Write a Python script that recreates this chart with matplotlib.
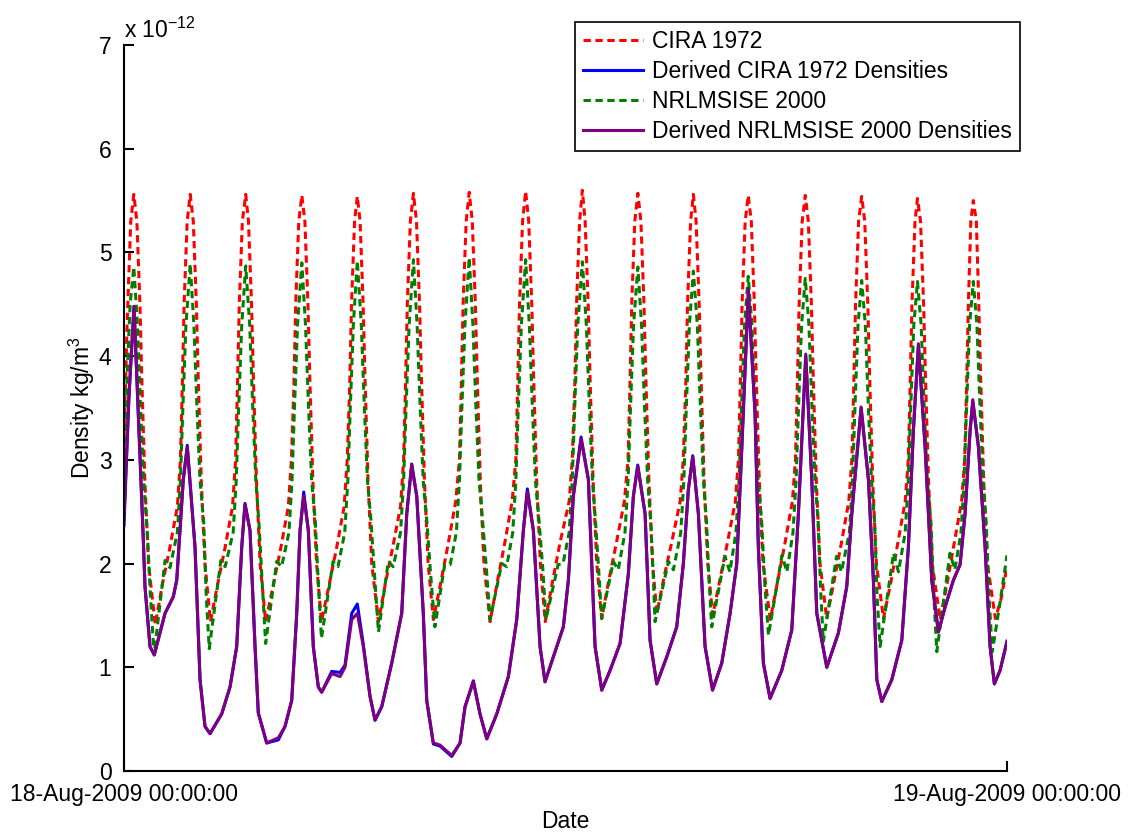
import numpy as np
import matplotlib
matplotlib.use('Agg')
from matplotlib import pyplot as plt
import matplotlib.dates as mdates

# minutes after 18-Aug-2009 00:00:00, density in units of 1e-12 kg/m^3
cira_1972 = [
    (0, 3.2), (5, 4.3), (11, 5.3), (16, 5.56), (21, 5.3), (26, 4.5), (29, 3.8), (34, 2.8), (40, 2.0), (51, 1.41),
    (62, 1.78), (75, 2.16), (87, 2.55), (92, 3.0), (95, 3.7), (98, 4.5), (103, 5.3), (108, 5.56), (113, 5.3), (118, 4.5), (121, 3.8), (126, 2.8), (132, 2.0), (141, 1.44),
    (152, 1.78), (165, 2.16), (177, 2.55), (182, 3.0), (185, 3.7), (188, 4.5), (193, 5.3), (198.5, 5.56), (203, 5.3), (208, 4.5), (211, 3.8), (216, 2.8), (222, 2.0), (231, 1.44),
    (243, 1.78), (256, 2.16), (268, 2.55), (273, 3.0), (277, 3.7), (280, 4.5), (285, 5.3), (290, 5.55), (295, 5.3), (300, 4.5), (303, 3.8), (308, 2.8), (314, 2.0), (322, 1.44),
    (334, 1.78), (347, 2.16), (359, 2.55), (364, 3.0), (368, 3.7), (371, 4.5), (376, 5.3), (380.5, 5.54), (385, 5.3), (390, 4.5), (393, 3.8), (398, 2.8), (404, 2.0), (415, 1.44),
    (426, 1.80), (439, 2.18), (451, 2.55), (456, 3.0), (459, 3.7), (462, 4.5), (467, 5.3), (472, 5.57), (477, 5.3), (482, 4.5), (485, 3.8), (490, 2.8), (496, 2.0), (504.5, 1.46),
    (516, 1.80), (529, 2.2), (541, 2.6), (547, 3.0), (550, 3.7), (553, 4.5), (558, 5.3), (563, 5.58), (568, 5.3), (573, 4.5), (576, 3.8), (581, 2.8), (587, 2.0), (597, 1.44),
    (608, 1.80), (621, 2.2), (633, 2.6), (639, 3.0), (642, 3.7), (645, 4.5), (650, 5.3), (655, 5.59), (660, 5.3), (665, 4.5), (668, 3.8), (673, 2.8), (679, 2.0), (687, 1.44),
    (698, 1.80), (711, 2.2), (726, 2.6), (731, 3.0), (735, 3.7), (738, 4.5), (743, 5.3), (747.5, 5.60), (752, 5.3), (757, 4.5), (760, 3.8), (765, 2.8), (771, 2.0), (779, 1.47),
    (790, 1.82), (803, 2.2), (816, 2.6), (822, 3.0), (825, 3.7), (828, 4.5), (833, 5.3), (838, 5.57), (843, 5.3), (848, 4.5), (851, 3.8), (856, 2.8), (862, 2.0), (869, 1.52),
    (880, 1.85), (893, 2.2), (907, 2.6), (912, 3.0), (916, 3.7), (919, 4.5), (924, 5.3), (928.5, 5.56), (933, 5.3), (938, 4.5), (941, 3.8), (946, 2.8), (952, 2.0), (960, 1.50),
    (971, 1.82), (984, 2.2), (997, 2.6), (1002, 3.0), (1005, 3.7), (1008, 4.5), (1013, 5.3), (1018, 5.55), (1023, 5.3), (1028, 4.5), (1031, 3.8), (1036, 2.8), (1042, 2.0), (1054, 1.46),
    (1065, 1.80), (1078, 2.2), (1090, 2.6), (1095, 3.0), (1098, 3.7), (1101, 4.5), (1106, 5.3), (1111, 5.55), (1116, 5.3), (1121, 4.5), (1124, 3.8), (1129, 2.8), (1135, 2.0), (1146, 1.47),
    (1157, 1.80), (1170, 2.2), (1182, 2.6), (1187, 3.0), (1190, 3.7), (1193, 4.5), (1198, 5.3), (1203, 5.54), (1208, 5.3), (1213, 4.5), (1216, 3.8), (1221, 2.8), (1227, 2.0), (1238.5, 1.47),
    (1250, 1.80), (1262, 2.2), (1274, 2.6), (1279, 3.0), (1282, 3.7), (1285, 4.5), (1290, 5.3), (1294, 5.52), (1299, 5.3), (1304, 4.5), (1307, 3.8), (1312, 2.8), (1318, 2.0), (1331, 1.46),
    (1342, 1.80), (1354, 2.2), (1366, 2.6), (1371, 3.0), (1374, 3.7), (1377, 4.5), (1381, 5.3), (1385, 5.50), (1390, 5.3), (1394, 4.5), (1397, 3.8), (1402, 2.8), (1408, 2.0), (1421, 1.47),
    (1430, 1.65), (1440, 1.97),
]

nrlmsise_2000 = [
    (0, 2.7), (5, 3.8), (10, 4.5), (16, 4.86), (22, 4.3), (27, 3.5), (32, 2.8), (38, 2.3), (43, 1.7), (49, 1.12),
    (67, 2.03), (75, 1.96), (87, 2.3), (92, 2.8), (96, 3.5), (101, 4.3), (108, 4.89), (114, 4.3), (119, 3.5), (124, 2.8), (130, 2.4), (134, 1.7), (139, 1.18),
    (158, 2.03), (165, 1.97), (178, 2.3), (183, 2.8), (187, 3.5), (192, 4.3), (198.5, 4.87), (205, 4.3), (210, 3.5), (215, 2.8), (220, 2.4), (226, 1.75), (231, 1.23),
    (249, 2.02), (257, 1.97), (269, 2.3), (274, 2.8), (278, 3.5), (283, 4.3), (290, 4.90), (296, 4.3), (301, 3.5), (306, 2.8), (312, 2.4), (317, 1.8), (322, 1.28),
    (341, 2.02), (349, 1.97), (360, 2.3), (365, 2.8), (369, 3.5), (374, 4.3), (380.5, 4.92), (387, 4.3), (392, 3.5), (397, 2.8), (403, 2.4), (409, 1.85), (415, 1.34),
    (431, 2.02), (439, 1.97), (451, 2.3), (456, 2.8), (460, 3.5), (465, 4.3), (472, 4.93), (478, 4.3), (483, 3.5), (488, 2.8), (494, 2.4), (500, 1.9), (507, 1.39),
    (523, 1.99), (532, 1.99), (542, 2.3), (547, 2.8), (551, 3.5), (556, 4.3), (563, 4.95), (569, 4.3), (574, 3.5), (579, 2.8), (585, 2.4), (591, 1.95), (597, 1.46),
    (616, 2.0), (624, 1.97), (634, 2.3), (639, 2.8), (643, 3.5), (648, 4.3), (655, 4.93), (661, 4.3), (666, 3.5), (671, 2.8), (677, 2.4), (683, 1.95), (688, 1.46),
    (708, 1.99), (716, 2.0), (726, 2.3), (731, 2.8), (735, 3.5), (740, 4.3), (747.5, 4.91), (754, 4.3), (759, 3.5), (764, 2.8), (769, 2.4), (774, 1.95), (779, 1.47),
    (798, 2.02), (806, 1.94), (817, 2.3), (822, 2.8), (826, 3.5), (831, 4.3), (838, 4.86), (844, 4.3), (849, 3.5), (854, 2.8), (859, 2.4), (863, 1.9), (866, 1.44),
    (888, 2.02), (896, 1.94), (908, 2.3), (913, 2.8), (917, 3.5), (922, 4.3), (928.5, 4.82), (935, 4.3), (940, 3.5), (945, 2.8), (950, 2.4), (954, 1.85), (958.5, 1.39),
    (980, 2.07), (988, 1.92), (998, 2.3), (1003, 2.8), (1007, 3.5), (1012, 4.3), (1018, 4.77), (1024, 4.3), (1029, 3.5), (1034, 2.8), (1040, 2.4), (1045, 1.8), (1051, 1.31),
    (1073, 2.08), (1081, 1.92), (1091, 2.3), (1096, 2.8), (1100, 3.5), (1105, 4.3), (1111, 4.75), (1117, 4.3), (1122, 3.5), (1127, 2.8), (1132, 2.4), (1136, 1.75), (1140.5, 1.25),
    (1162, 2.07), (1170, 1.92), (1183, 2.3), (1188, 2.8), (1192, 3.5), (1197, 4.3), (1203, 4.73), (1209, 4.3), (1214, 3.5), (1219, 2.8), (1224, 2.4), (1228, 1.7), (1233, 1.20),
    (1255, 2.10), (1263, 1.92), (1274, 2.3), (1279, 2.8), (1283, 3.5), (1288, 4.3), (1294, 4.72), (1300, 4.3), (1305, 3.5), (1310, 2.8), (1316, 2.4), (1321, 1.65), (1325.5, 1.15),
    (1347, 2.10), (1355, 1.94), (1365, 2.3), (1370, 2.8), (1374, 3.5), (1379, 4.3), (1385, 4.72), (1391, 4.3), (1396, 3.5), (1401, 2.8), (1406, 2.4), (1411, 1.65), (1416, 1.15),
    (1428, 1.6), (1440, 2.08),
]

derived_min = [
    0, 8, 16.3, 31.5, 34.2, 42.4, 49.4, 66.9, 80.4, 86.0,
    96.7, 103.2, 115.8, 124.0, 132.1, 140.3, 159.3, 172.9, 183.8, 192.0,
    197.3, 205.5, 213.7, 219.0, 232.7, 251.7, 262.6, 273.5, 281.7, 287.1,
    293.1, 300.6, 308.7, 316.9, 322.4, 338.8, 352.3, 360.4, 371.4, 380.5,
    390.3, 401.2, 409.4, 420.3, 436.6, 452.9, 461.1, 469.2, 477.4, 488.1,
    493.7, 504.5, 515.4, 534.5, 548.0, 556.2, 569.7, 580.6, 591.6, 607.9,
    626.8, 640.5, 651.3, 657.8, 667.6, 678.5, 686.6, 700.2, 716.5, 724.7,
    732.8, 745.4, 757.3, 768.2, 779.1, 792.7, 809.0, 822.5, 830.7, 837.8,
    849.8, 857.9, 868.8, 885.1, 901.4, 912.2, 920.3, 927.5, 936.7, 947.6,
    959.8, 974.8, 988.4, 999.3, 1007.5, 1018.2, 1029.1, 1034.5, 1042.7, 1053.6,
    1072.7, 1089.0, 1099.8, 1111.8, 1121.6, 1129.8, 1146.1, 1165.0, 1178.7, 1186.9,
    1202.1, 1214.0, 1222.1, 1227.7, 1235.8, 1252.1, 1268.4, 1279.2, 1287.3, 1295.5,
    1306.4, 1317.3, 1328.1, 1339.0, 1352.6, 1363.5, 1371.6, 1379.8, 1384.2, 1393.3,
    1404.3, 1412.4, 1419.4, 1428.7, 1440,
]

derived_cira = [
    2.37, 3.6, 4.48, 2.23, 1.78, 1.20, 1.12, 1.52, 1.68, 1.84,
    2.81, 3.14, 2.16, 0.88, 0.43, 0.36, 0.55, 0.81, 1.20, 2.16,
    2.58, 2.32, 1.20, 0.56, 0.27, 0.30, 0.43, 0.68, 1.52, 2.32,
    2.69, 2.32, 1.20, 0.81, 0.76, 0.96, 0.95, 1.02, 1.52, 1.61,
    1.22, 0.72, 0.49, 0.62, 1.04, 1.52, 2.48, 2.96, 2.65, 1.52,
    0.68, 0.26, 0.24, 0.14, 0.27, 0.62, 0.87, 0.55, 0.31, 0.55,
    0.91, 1.46, 2.32, 2.72, 2.32, 1.20, 0.86, 1.10, 1.39, 1.84,
    2.65, 3.22, 2.81, 1.20, 0.78, 0.97, 1.23, 1.90, 2.65, 2.95,
    2.48, 1.26, 0.84, 1.10, 1.39, 2.00, 2.71, 3.04, 2.48, 1.20,
    0.78, 1.04, 1.52, 2.00, 3.10, 4.60, 3.45, 2.16, 1.04, 0.70,
    0.97, 1.36, 2.48, 4.00, 2.81, 1.52, 1.00, 1.33, 1.78, 2.48,
    3.50, 2.81, 1.84, 0.88, 0.67, 0.88, 1.26, 2.16, 3.27, 4.10,
    3.13, 1.84, 1.34, 1.58, 1.84, 1.99, 2.48, 3.27, 3.56, 3.13,
    2.16, 1.20, 0.84, 0.97, 1.25,
]

derived_nrlmsise = [
    2.45, 3.6, 4.48, 2.23, 1.78, 1.20, 1.12, 1.52, 1.68, 1.84,
    2.81, 3.12, 2.16, 0.88, 0.43, 0.36, 0.55, 0.81, 1.20, 2.16,
    2.57, 2.32, 1.20, 0.56, 0.27, 0.32, 0.43, 0.68, 1.52, 2.32,
    2.65, 2.32, 1.20, 0.81, 0.76, 0.94, 0.91, 1.00, 1.46, 1.52,
    1.20, 0.72, 0.49, 0.62, 1.04, 1.52, 2.48, 2.95, 2.65, 1.52,
    0.68, 0.27, 0.25, 0.15, 0.27, 0.62, 0.86, 0.55, 0.31, 0.55,
    0.91, 1.46, 2.32, 2.69, 2.32, 1.20, 0.86, 1.10, 1.39, 1.84,
    2.65, 3.20, 2.81, 1.20, 0.78, 0.97, 1.23, 1.90, 2.65, 2.94,
    2.48, 1.26, 0.84, 1.10, 1.39, 2.00, 2.71, 3.03, 2.48, 1.20,
    0.78, 1.04, 1.52, 2.00, 3.13, 4.65, 3.45, 2.16, 1.04, 0.70,
    0.97, 1.36, 2.48, 4.02, 2.81, 1.52, 1.00, 1.33, 1.78, 2.48,
    3.51, 2.81, 1.84, 0.88, 0.67, 0.88, 1.26, 2.16, 3.29, 4.12,
    3.13, 1.84, 1.34, 1.58, 1.84, 1.99, 2.48, 3.29, 3.58, 3.13,
    2.16, 1.20, 0.84, 0.97, 1.25,
]

labels = ['CIRA 1972', 'Derived CIRA 1972 Densities',
          'NRLMSISE 2000', 'Derived NRLMSISE 2000 Densities']

START = np.datetime64('2009-08-18T00:00:00')


def to_dates(minutes):
    secs = np.round(np.asarray(minutes, dtype=float) * 60).astype('int64')
    return START + secs.astype('timedelta64[s]')


def main():
    plt.rcParams['font.family'] = ['Liberation Sans', 'DejaVu Sans']
    plt.rcParams['font.size'] = 16.5
    plt.rcParams['mathtext.default'] = 'regular'

    fig = plt.figure(figsize=(11.3, 8.32), dpi=100)
    ax = fig.add_axes([124 / 1130, 1 - 771 / 832, 883 / 1130, 726 / 832])

    c_t, c_v = zip(*cira_1972)
    n_t, n_v = zip(*nrlmsise_2000)
    dash = (2.4, 1.5)

    ax.plot(to_dates(c_t), c_v, color='#ff0000', lw=2.2, ls='--', dashes=dash, label=labels[0])
    ax.plot(to_dates(derived_min), derived_cira, color='#0000ff', lw=2.2, label=labels[1])
    ax.plot(to_dates(n_t), n_v, color='#008000', lw=2.2, ls='--', dashes=dash, label=labels[2])
    ax.plot(to_dates(derived_min), derived_nrlmsise, color='#7f007f', lw=2.2, label=labels[3])

    end = START + np.timedelta64(1, 'D')
    ax.set_xlim(START, end)
    ax.set_xticks([mdates.date2num(START), mdates.date2num(end)])
    ax.xaxis.set_major_formatter(mdates.DateFormatter('%d-%b-%Y %H:%M:%S'))
    ax.set_ylim(0, 7)
    ax.set_yticks(range(8))

    for side in ['top', 'right']:
        ax.spines[side].set_visible(False)
    for side in ['left', 'bottom']:
        ax.spines[side].set_linewidth(1.5)
    ax.tick_params(direction='in', length=7, width=1.5, top=False, right=False)
    ax.tick_params(axis='x', pad=8.5)
    ax.tick_params(axis='y', pad=9)

    ax.set_xlabel('Date', labelpad=3)
    ax.set_ylabel('Density kg/m$^3$', labelpad=1)

    fig.text(124 / 1130, 1 - 38 / 832, 'x 10$^{-12}$', ha='left', va='baseline')

    leg = fig.legend(loc='upper right', bbox_to_anchor=(1020 / 1130, 1 - 22 / 832),
                     frameon=True, fancybox=False, framealpha=1, edgecolor='black',
                     handlelength=2.6, labelspacing=0.3, borderpad=0.35,
                     handletextpad=0.4, borderaxespad=0)
    leg.get_frame().set_linewidth(1.2)

    fig.savefig('out.png', dpi=100)


if __name__ == '__main__':
    main()
